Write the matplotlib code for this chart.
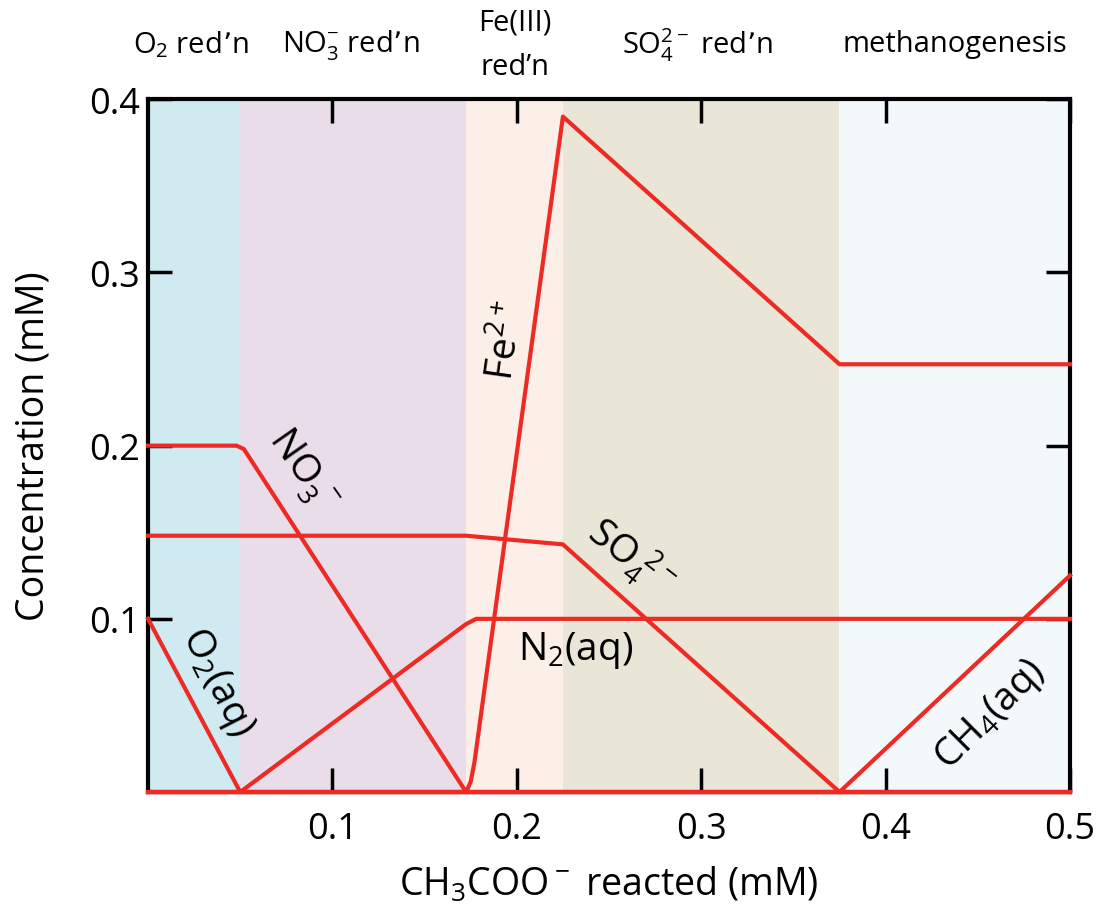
import matplotlib
matplotlib.use("Agg")
import matplotlib.pyplot as plt

plt.rcParams['font.family'] = ['Open Sans', 'DejaVu Sans']
plt.rcParams['mathtext.default'] = 'regular'

# zone boundaries (CH3COO- reacted, mM)
zone_edges = [0.0, 0.05, 0.1725, 0.225, 0.375, 0.5]
zone_colors = ['#cfeaf0', '#e8dde8', '#fcefe7', '#e9e6d8', '#f3f8fb']
zone_names = ["O$_2$ red\u2019n", "NO$_3^{-}$ red\u2019n", "Fe(III)\nred\u2019n",
              "SO$_4^{2-}$ red\u2019n", "methanogenesis"]
zone_label_x = [0.023, 0.11, 0.199, 0.298, 0.4376]

# species curves
o2_x = [0.0, 0.05, 0.5]
o2_y = [0.1, 0.0, 0.0]
no3_x = [0.0, 0.048, 0.052, 0.1725, 0.5]
no3_y = [0.2, 0.2, 0.198, 0.0, 0.0]
so4_x = [0.0, 0.1725, 0.225, 0.375, 0.5]
so4_y = [0.148, 0.148, 0.143, 0.0, 0.0]
n2_x = [0.0, 0.05, 0.1725, 0.178, 0.5]
n2_y = [0.0, 0.0, 0.097, 0.1, 0.1]
fe_x = [0.0, 0.1725, 0.175, 0.177, 0.225, 0.375, 0.5]
fe_y = [0.0, 0.0, 0.006, 0.017, 0.39, 0.247, 0.247]
ch4_x = [0.0, 0.375, 0.5]
ch4_y = [0.0, 0.0, 0.125]

red = '#ee2a24'

fig = plt.figure(figsize=(10.99, 9.2), dpi=100)
ax = fig.add_axes([0.1347, 0.138, 0.8389, 0.753])

for i in range(len(zone_colors)):
    ax.axvspan(zone_edges[i], zone_edges[i + 1], color=zone_colors[i], lw=0, zorder=0)
    ax.text(zone_label_x[i], 1.08, zone_names[i], transform=ax.get_xaxis_transform(),
            ha='center', va='center', fontsize=21, linespacing=1.7)

for xs, ys in [(o2_x, o2_y), (no3_x, no3_y), (so4_x, so4_y),
               (n2_x, n2_y), (fe_x, fe_y), (ch4_x, ch4_y)]:
    ax.plot(xs, ys, color=red, lw=3, solid_joinstyle='round', zorder=3, clip_on=False)

# inline labels
ax.text(0.037, 0.064, "O$_2$(aq)", rotation=-63, fontsize=28, ha='center', va='center')
ax.text(0.083, 0.186, "NO$_3^{\\ -}$", rotation=-55, fontsize=28, ha='center', va='center')
ax.text(0.195, 0.261, "Fe$^{2+}$", rotation=82, fontsize=28, ha='center', va='center')
ax.text(0.262, 0.136, "SO$_4^{\\ 2-}$", rotation=-38, fontsize=28, ha='center', va='center')
ax.text(0.2316, 0.0825, "N$_2$(aq)", fontsize=28, ha='center', va='center')
ax.text(0.457, 0.045, "CH$_4$(aq)", rotation=45, fontsize=28, ha='center', va='center')

ax.set_xlim(0, 0.5)
ax.set_ylim(0, 0.4)
ax.set_xticks([0.1, 0.2, 0.3, 0.4, 0.5])
ax.set_yticks([0.1, 0.2, 0.3, 0.4])
ax.tick_params(direction='in', length=17, width=2.5, labelsize=26,
               top=True, right=True)
ax.tick_params(axis='x', pad=14)
ax.tick_params(axis='y', pad=6)
for s in ax.spines.values():
    s.set_linewidth(3)

ax.set_xlabel("CH$_3$COO$^-$ reacted (mM)", fontsize=27, labelpad=12)
ax.set_ylabel("Concentration (mM)", fontsize=27, labelpad=26)

fig.savefig("out.png", dpi=100)
